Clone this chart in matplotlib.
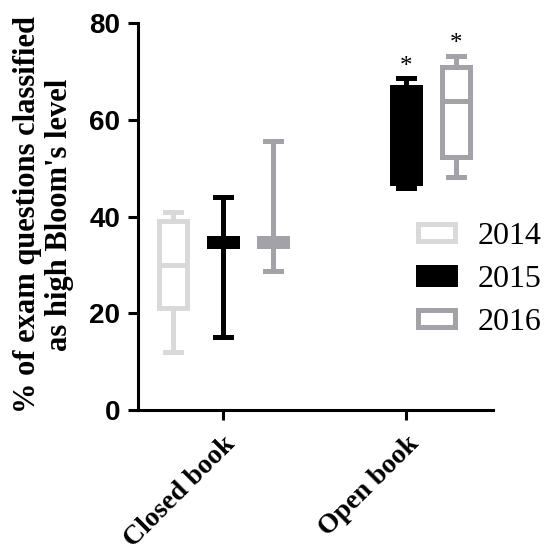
import numpy as np
import matplotlib
matplotlib.use('Agg')
import matplotlib.pyplot as plt
from matplotlib.patches import Patch

groups = ['Closed book', 'Open book']
years = ['2014', '2015', '2016']
colors = ['#d9d9d9', '#000000', '#a2a2a8']
filled = [False, True, False]

# min, q1, median, q3, max  (None = no data)
closed_2014 = [12, 21, 30, 39, 41]
closed_2015 = [15, 34, 34.8, 35.5, 44]
closed_2016 = [28.7, 34, 35, 35.5, 55.7]
open_2014 = None
open_2015 = [46, 47, 57, 66.7, 68.6]
open_2016 = [48.1, 52.3, 64, 70.9, 73.3]

data = [[closed_2014, closed_2015, closed_2016],
        [open_2014, open_2015, open_2016]]
signif = [[False, False, False], [False, True, True]]

fig = plt.figure(figsize=(5.49, 5.51), dpi=100)
ax = fig.add_axes([0.251, 0.256, 0.647, 0.702])

offset = 0.273
width = 0.155
lw = 3.6
for g, row in enumerate(data):
    for k, vals in enumerate(row):
        if vals is None:
            continue
        pos = g + (k - 1) * offset
        st = dict(whislo=vals[0], q1=vals[1], med=vals[2], q3=vals[3], whishi=vals[4])
        c = colors[k]
        ax.bxp([st], positions=[pos], widths=width, showfliers=False,
               patch_artist=True,
               boxprops=dict(facecolor=c if filled[k] else 'white', edgecolor=c, linewidth=lw),
               whiskerprops=dict(color=c, linewidth=lw),
               capprops=dict(color=c, linewidth=lw),
               medianprops=dict(color=c, linewidth=lw),
               capwidths=width * 0.55)
        if signif[g][k]:
            ax.text(pos, vals[4] + 2.4, '*', ha='center', va='center',
                    fontsize=18, family='Liberation Serif')

ax.set_xlim(-0.464, 1.475)
ax.set_ylim(0, 80)
ax.set_yticks([0, 20, 40, 60, 80])
ax.set_xticks([0, 1])
ax.set_xticklabels(groups, rotation=45, ha='right', va='top', rotation_mode='anchor',
                   family='Liberation Serif', fontweight='bold', fontsize=20)
for t in ax.get_yticklabels():
    t.set_family('Liberation Sans')
    t.set_fontweight('bold')
    t.set_fontsize(20)
ax.tick_params(width=2.2, length=7.5, pad=5)
ax.tick_params(axis='x', pad=8)
for s in ['top', 'right']:
    ax.spines[s].set_visible(False)
for s in ['left', 'bottom']:
    ax.spines[s].set_linewidth(2.2)

ax.set_ylabel("% of exam questions classified\nas high Bloom's level",
              family='Liberation Serif', fontweight='bold', fontsize=22,
              linespacing=1.15)
ax.yaxis.set_label_coords(-0.18, 0.505)

handles = [Patch(facecolor=c if f else 'white', edgecolor=c, linewidth=lw)
           for c, f in zip(colors, filled)]
leg = ax.legend(handles, years, loc='upper left', bbox_to_anchor=(0.762, 0.598),
                bbox_transform=fig.transFigure, frameon=False,
                borderpad=0, borderaxespad=0,
                prop=dict(family='Liberation Serif', size=23),
                handlelength=1.15, handleheight=0.45, handletextpad=0.7,
                labelspacing=0.45)

fig.savefig('out.png', dpi=100)
